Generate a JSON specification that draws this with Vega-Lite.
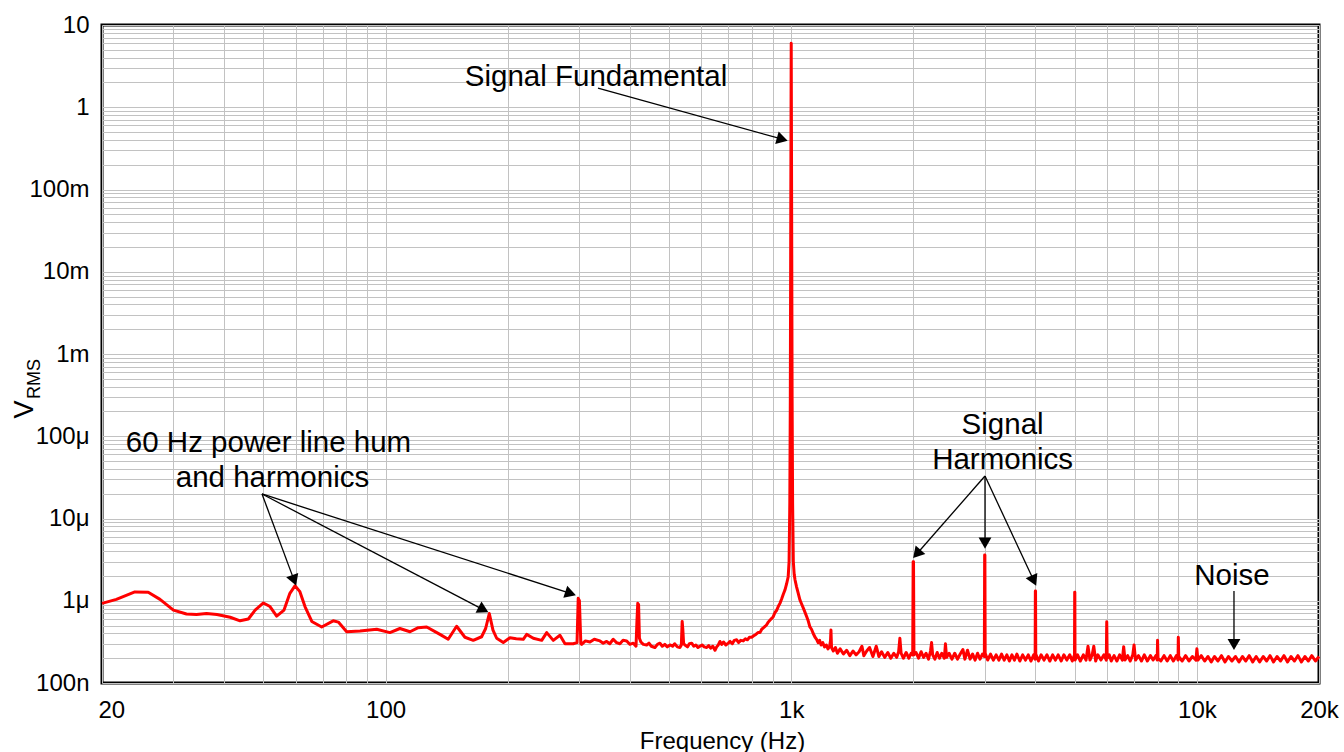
{
  "$schema": "https://vega.github.io/schema/vega-lite/v6.json",
  "width": 1217,
  "height": 658,
  "autosize": {"type": "none"},
  "padding": {"left": 102, "top": 25, "right": 25, "bottom": 69},
  "background": "white",
  "config": {
    "font": "Liberation Sans",
    "view": {"stroke": "#000000", "strokeWidth": 3},
    "axis": {"labelColor": "#000000", "titleColor": "#000000", "titleFontWeight": "normal"}
  },
  "datasets": {
    "spectrum": [
      {"f":20,"v":9.3e-7},{"f":21.7,"v":1.04e-6},{"f":24.1,"v":1.28e-6},{"f":26,"v":1.27e-6},{"f":27.8,"v":1.04e-6},
      {"f":30,"v":7.7e-7},{"f":32.3,"v":6.9e-7},{"f":34.2,"v":6.8e-7},{"f":36.2,"v":7.0e-7},{"f":38.4,"v":6.8e-7},
      {"f":41.4,"v":6.3e-7},{"f":43.8,"v":5.7e-7},{"f":45.9,"v":6.0e-7},{"f":47.7,"v":7.7e-7},{"f":50,"v":9.4e-7},
      {"f":51.9,"v":8.5e-7},{"f":53.9,"v":6.5e-7},{"f":56.2,"v":7.7e-7},{"f":58.1,"v":1.23e-6},{"f":59.8,"v":1.52e-6},
      {"f":61.5,"v":1.29e-6},{"f":63.3,"v":8.5e-7},{"f":65.8,"v":5.6e-7},{"f":69.6,"v":4.8e-7},{"f":74.3,"v":5.7e-7},
      {"f":76.5,"v":5.5e-7},{"f":80.2,"v":4.2e-7},{"f":86.5,"v":4.3e-7},{"f":95.1,"v":4.5e-7},{"f":102.5,"v":4.1e-7},
      {"f":108.5,"v":4.6e-7},{"f":114.9,"v":4.2e-7},{"f":120.4,"v":4.7e-7},{"f":126.3,"v":4.8e-7},{"f":136.2,"v":3.9e-7},
      {"f":142.7,"v":3.4e-7},{"f":149.7,"v":4.9e-7},{"f":156.9,"v":3.6e-7},{"f":164.5,"v":3.3e-7},{"f":172.5,"v":3.65e-7},
      {"f":176.5,"v":4.6e-7},{"f":180.2,"v":7.0e-7},{"f":184,"v":4.4e-7},{"f":187.9,"v":3.5e-7},{"f":195.1,"v":3.1e-7},
      {"f":202.6,"v":3.55e-7},{"f":210,"v":3.45e-7},{"f":218.5,"v":3.4e-7},{"f":222.8,"v":3.9e-7},{"f":231.3,"v":3.5e-7},
      {"f":242.6,"v":3.3e-7},{"f":249.6,"v":4.1e-7},{"f":259.1,"v":3.3e-7},{"f":269.1,"v":3.8e-7},{"f":276.9,"v":3.0e-7},
      {"f":290.2,"v":3.0e-7},{"f":296.5,"v":3.1e-7},{"f":298.5,"v":1.07e-6},{"f":300.5,"v":1.0e-6},{"f":303,"v":3.0e-7},
      {"f":304.4,"v":2.95e-7},{"f":311,"v":3.25e-7},{"f":319.1,"v":3.15e-7},{"f":327,"v":3.4e-7},{"f":337.7,"v":3.25e-7},
      {"f":344,"v":3.05e-7},{"f":350.8,"v":3.2e-7},{"f":357,"v":3.0e-7},{"f":364.1,"v":3.4e-7},{"f":371,"v":3.1e-7},
      {"f":378.2,"v":3.0e-7},{"f":385,"v":3.3e-7},{"f":393,"v":3.25e-7},{"f":400,"v":2.95e-7},{"f":408,"v":3.05e-7},
      {"f":414.4,"v":2.8e-7},{"f":416.5,"v":5.5e-7},{"f":418.5,"v":9.3e-7},{"f":420.5,"v":9.0e-7},{"f":422.5,"v":3.5e-7},
      {"f":426,"v":3.15e-7},{"f":432,"v":2.95e-7},{"f":440.2,"v":2.9e-7},{"f":446,"v":3.05e-7},{"f":452,"v":2.8e-7},
      {"f":461.4,"v":2.7e-7},{"f":468,"v":2.95e-7},{"f":474.6,"v":3.05e-7},{"f":481,"v":2.8e-7},{"f":488,"v":2.95e-7},
      {"f":495,"v":2.75e-7},{"f":502.4,"v":2.9e-7},{"f":510,"v":2.8e-7},{"f":516,"v":3.0e-7},{"f":524,"v":2.75e-7},
      {"f":531.6,"v":2.7e-7},{"f":536,"v":2.9e-7},{"f":538.5,"v":5.6e-7},{"f":540.5,"v":4.5e-7},{"f":543,"v":3.0e-7},
      {"f":547.2,"v":2.9e-7},{"f":555,"v":2.75e-7},{"f":561,"v":3.0e-7},{"f":568.4,"v":3.05e-7},{"f":575,"v":2.8e-7},
      {"f":582,"v":2.9e-7},{"f":589,"v":2.7e-7},{"f":595.8,"v":2.8e-7},{"f":603,"v":2.9e-7},{"f":610,"v":2.75e-7},
      {"f":618.9,"v":2.7e-7},{"f":626,"v":2.85e-7},{"f":633,"v":2.65e-7},{"f":641,"v":2.8e-7},{"f":648.8,"v":2.5e-7},
      {"f":655,"v":2.75e-7},{"f":661,"v":2.9e-7},{"f":667.4,"v":3.2e-7},{"f":674,"v":2.95e-7},{"f":681,"v":3.15e-7},
      {"f":690,"v":2.9e-7},{"f":699.6,"v":3.05e-7},{"f":707,"v":3.2e-7},{"f":716,"v":3.0e-7},{"f":724,"v":3.3e-7},
      {"f":733.8,"v":3.35e-7},{"f":742,"v":3.1e-7},{"f":751,"v":3.3e-7},{"f":761.6,"v":3.25e-7},{"f":771,"v":3.45e-7},
      {"f":780,"v":3.35e-7},{"f":789,"v":3.6e-7},{"f":799,"v":3.6e-7},{"f":808,"v":3.75e-7},{"f":818,"v":3.9e-7},
      {"f":828,"v":4.1e-7},{"f":837.4,"v":4.1e-7},{"f":846,"v":4.5e-7},{"f":855,"v":4.7e-7},{"f":863,"v":4.9e-7},
      {"f":870,"v":5.1e-7},{"f":878,"v":5.5e-7},{"f":886,"v":5.8e-7},{"f":895,"v":6.1e-7},{"f":903,"v":6.4e-7},
      {"f":912,"v":7.2e-7},{"f":920,"v":7.6e-7},{"f":929,"v":8.5e-7},{"f":938,"v":9.3e-7},{"f":947,"v":1.05e-6},
      {"f":956,"v":1.2e-6},{"f":965,"v":1.35e-6},{"f":974,"v":1.6e-6},{"f":983,"v":1.96e-6},{"f":988,"v":3.0e-6},
      {"f":992,"v":1.5e-5},{"f":995,"v":3e-4},{"f":997.5,"v":0.05},{"f":1000,"v":6.0},{"f":1002.5,"v":0.05},
      {"f":1005,"v":3e-4},{"f":1008,"v":1.5e-5},{"f":1012,"v":3.0e-6},{"f":1017,"v":2.1e-6},{"f":1022,"v":1.79e-6},
      {"f":1030,"v":1.5e-6},{"f":1040,"v":1.25e-6},{"f":1051,"v":1.02e-6},{"f":1062,"v":9.0e-7},{"f":1075,"v":7.8e-7},
      {"f":1092,"v":6.4e-7},{"f":1100,"v":5.8e-7},{"f":1112,"v":4.8e-7},{"f":1122,"v":4.5e-7},{"f":1133,"v":4.0e-7},
      {"f":1145,"v":3.6e-7},{"f":1155,"v":3.4e-7},{"f":1165,"v":3.1e-7},{"f":1175,"v":3.3e-7},{"f":1185,"v":2.9e-7},
      {"f":1196,"v":3.1e-7},{"f":1208,"v":2.75e-7},{"f":1220,"v":2.9e-7},{"f":1232,"v":2.6e-7},{"f":1244,"v":2.8e-7},
      {"f":1250,"v":3.3e-7},{"f":1253,"v":4.4e-7},{"f":1257,"v":2.7e-7},{"f":1270,"v":2.45e-7},{"f":1285,"v":2.7e-7},
      {"f":1300,"v":2.3e-7},{"f":1320,"v":2.6e-7},{"f":1345,"v":2.25e-7},{"f":1370,"v":2.5e-7},{"f":1395,"v":2.15e-7},
      {"f":1420,"v":2.45e-7},{"f":1445,"v":2.2e-7},{"f":1470,"v":2.4e-7},{"f":1494,"v":2.8e-7},{"f":1510,"v":2.15e-7},
      {"f":1535,"v":2.45e-7},{"f":1560,"v":2.7e-7},{"f":1590,"v":2.1e-7},{"f":1620,"v":2.8e-7},{"f":1645,"v":2.1e-7},
      {"f":1670,"v":2.4e-7},{"f":1700,"v":2.05e-7},{"f":1730,"v":2.35e-7},{"f":1760,"v":2.0e-7},{"f":1790,"v":2.3e-7},
      {"f":1820,"v":2.05e-7},{"f":1840,"v":2.4e-7},{"f":1853,"v":3.5e-7},{"f":1866,"v":2.3e-7},{"f":1890,"v":2.0e-7},
      {"f":1920,"v":2.35e-7},{"f":1950,"v":2.0e-7},{"f":1975,"v":2.3e-7},{"f":1993,"v":2.2e-7},{"f":1998,"v":2.98e-6},
      {"f":2002,"v":2.98e-6},{"f":2007,"v":2.2e-7},{"f":2030,"v":2.35e-7},{"f":2060,"v":2.0e-7},{"f":2090,"v":2.4e-7},
      {"f":2120,"v":2.05e-7},{"f":2150,"v":2.3e-7},{"f":2180,"v":1.95e-7},{"f":2205,"v":2.45e-7},{"f":2218,"v":3.1e-7},
      {"f":2232,"v":2.2e-7},{"f":2260,"v":1.95e-7},{"f":2290,"v":2.35e-7},{"f":2320,"v":2.0e-7},{"f":2350,"v":2.3e-7},
      {"f":2385,"v":2.0e-7},{"f":2400,"v":3.0e-7},{"f":2415,"v":2.05e-7},{"f":2450,"v":2.3e-7},{"f":2490,"v":1.95e-7},
      {"f":2530,"v":2.3e-7},{"f":2570,"v":1.95e-7},{"f":2610,"v":2.25e-7},{"f":2650,"v":2.55e-7},{"f":2680,"v":1.95e-7},
      {"f":2720,"v":2.5e-7},{"f":2760,"v":1.95e-7},{"f":2800,"v":2.25e-7},{"f":2840,"v":1.9e-7},{"f":2880,"v":2.3e-7},
      {"f":2920,"v":1.95e-7},{"f":2960,"v":2.25e-7},{"f":2993,"v":2.1e-7},{"f":2998,"v":3.6e-6},{"f":3002,"v":3.6e-6},
      {"f":3007,"v":2.3e-7},{"f":3050,"v":1.9e-7},{"f":3100,"v":2.25e-7},{"f":3150,"v":1.9e-7},{"f":3200,"v":2.2e-7},
      {"f":3250,"v":1.9e-7},{"f":3300,"v":2.25e-7},{"f":3350,"v":1.9e-7},{"f":3400,"v":2.2e-7},{"f":3450,"v":1.85e-7},
      {"f":3500,"v":2.2e-7},{"f":3550,"v":1.9e-7},{"f":3600,"v":2.25e-7},{"f":3660,"v":1.85e-7},{"f":3720,"v":2.2e-7},
      {"f":3780,"v":1.9e-7},{"f":3840,"v":2.2e-7},{"f":3900,"v":1.85e-7},{"f":3960,"v":2.2e-7},{"f":3993,"v":1.95e-7},
      {"f":3998,"v":1.31e-6},{"f":4002,"v":1.31e-6},{"f":4007,"v":2.25e-7},{"f":4070,"v":1.85e-7},{"f":4130,"v":2.2e-7},
      {"f":4200,"v":1.9e-7},{"f":4270,"v":2.2e-7},{"f":4340,"v":1.85e-7},{"f":4410,"v":2.2e-7},{"f":4480,"v":1.9e-7},
      {"f":4550,"v":2.2e-7},{"f":4630,"v":1.85e-7},{"f":4700,"v":2.2e-7},{"f":4780,"v":1.9e-7},{"f":4860,"v":2.2e-7},
      {"f":4930,"v":1.85e-7},{"f":4993,"v":2.2e-7},{"f":4998,"v":1.27e-6},{"f":5002,"v":1.27e-6},{"f":5007,"v":1.9e-7},
      {"f":5080,"v":2.2e-7},{"f":5160,"v":1.85e-7},{"f":5250,"v":2.2e-7},{"f":5330,"v":1.9e-7},{"f":5390,"v":2.8e-7},
      {"f":5450,"v":1.9e-7},{"f":5520,"v":2.2e-7},{"f":5570,"v":2.8e-7},{"f":5630,"v":1.85e-7},{"f":5700,"v":2.2e-7},
      {"f":5800,"v":1.9e-7},{"f":5900,"v":2.2e-7},{"f":5980,"v":1.9e-7},{"f":5995,"v":5.56e-7},{"f":6010,"v":2.0e-7},
      {"f":6080,"v":2.2e-7},{"f":6150,"v":1.85e-7},{"f":6250,"v":2.15e-7},{"f":6350,"v":1.85e-7},{"f":6450,"v":2.2e-7},
      {"f":6550,"v":1.9e-7},{"f":6600,"v":2.76e-7},{"f":6650,"v":1.9e-7},{"f":6750,"v":2.15e-7},{"f":6850,"v":1.85e-7},
      {"f":6950,"v":2.2e-7},{"f":7000,"v":2.9e-7},{"f":7060,"v":1.9e-7},{"f":7180,"v":2.15e-7},{"f":7300,"v":1.85e-7},
      {"f":7420,"v":2.2e-7},{"f":7550,"v":1.85e-7},{"f":7680,"v":2.15e-7},{"f":7800,"v":1.9e-7},{"f":7920,"v":2.15e-7},
      {"f":7985,"v":1.9e-7},{"f":8000,"v":3.3e-7},{"f":8020,"v":2.0e-7},{"f":8150,"v":1.85e-7},{"f":8300,"v":2.15e-7},
      {"f":8450,"v":1.85e-7},{"f":8600,"v":2.15e-7},{"f":8750,"v":1.85e-7},{"f":8900,"v":2.15e-7},{"f":8985,"v":1.9e-7},
      {"f":9000,"v":3.6e-7},{"f":9020,"v":2.1e-7},{"f":9200,"v":1.85e-7},{"f":9380,"v":2.15e-7},{"f":9560,"v":1.85e-7},
      {"f":9750,"v":2.1e-7},{"f":9950,"v":1.9e-7},{"f":10000,"v":2.6e-7},{"f":10060,"v":1.9e-7},{"f":10250,"v":2.15e-7},
      {"f":10450,"v":1.85e-7},{"f":10650,"v":2.1e-7},{"f":10850,"v":1.8e-7},{"f":11050,"v":2.1e-7},{"f":11270,"v":1.85e-7},
      {"f":11500,"v":2.15e-7},{"f":11730,"v":1.8e-7},{"f":11960,"v":2.1e-7},{"f":12200,"v":1.85e-7},{"f":12450,"v":2.1e-7},
      {"f":12700,"v":1.8e-7},{"f":12950,"v":2.1e-7},{"f":13200,"v":1.85e-7},{"f":13460,"v":2.15e-7},{"f":13730,"v":1.8e-7},
      {"f":14000,"v":2.1e-7},{"f":14280,"v":1.8e-7},{"f":14570,"v":2.1e-7},{"f":14860,"v":1.85e-7},{"f":15150,"v":2.15e-7},
      {"f":15450,"v":1.8e-7},{"f":15760,"v":2.1e-7},{"f":16080,"v":1.85e-7},{"f":16400,"v":2.15e-7},{"f":16730,"v":1.8e-7},
      {"f":17060,"v":2.1e-7},{"f":17400,"v":1.85e-7},{"f":17750,"v":2.15e-7},{"f":18100,"v":1.8e-7},{"f":18460,"v":2.1e-7},
      {"f":18830,"v":1.85e-7},{"f":19200,"v":2.15e-7},{"f":19600,"v":1.85e-7},{"f":20000,"v":2.1e-7}
    ],
    "arrows": [
      {"f0":334.0,"v0":1.714,"f":941,"v":0.4146},
      {"f0":49.6,"v0":1.986e-5,"f":59.3,"v":1.859e-6},
      {"f0":49.6,"v0":1.986e-5,"f":172.7,"v":7.98e-7},
      {"f0":49.6,"v0":1.986e-5,"f":283.0,"v":1.246e-6},
      {"f0":3004,"v0":3.286e-5,"f":2054,"v":3.86e-6},
      {"f0":3004,"v0":3.286e-5,"f":3004,"v":5.28e-6},
      {"f0":3004,"v0":3.286e-5,"f":3946,"v":1.838e-6},
      {"f0":12344,"v0":1.314e-6,"f":12344,"v":3.10e-7}
    ],
    "notes": [
      {"f":330.2,"v":1.813,"label":"Signal Fundamental"},
      {"f":51.46,"v":6.435e-5,"label":"60 Hz power line hum"},
      {"f":52.64,"v":2.415e-5,"label":"and harmonics"},
      {"f":3320,"v":1.065e-4,"label":"Signal"},
      {"f":3320,"v":3.997e-5,"label":"Harmonics"},
      {"f":12206,"v":1.554e-6,"label":"Noise"}
    ]
  },
  "encoding": {
    "x": {
      "field": "f",
      "type": "quantitative",
      "scale": {"type": "log", "domain": [20, 20000], "nice": false},
      "axis": {
        "values": [20,30,40,50,60,70,80,90,100,200,300,400,500,600,700,800,900,1000,2000,3000,4000,5000,6000,7000,8000,9000,10000,20000],
        "labelExpr": "datum.value == 20 ? '20' : datum.value == 100 ? '100' : datum.value == 1000 ? '1k' : datum.value == 10000 ? '10k' : datum.value == 20000 ? '20k' : ''",
        "labelAlign": {"condition": {"test": "datum.value == 20", "value": "left"}, "value": "center"},
        "labelOffset": {"condition": {"test": "datum.value == 20", "value": -4}, "value": 0},
        "labelOverlap": false,
        "labelBound": false,
        "labelFlush": false,
        "labelFontSize": 24,
        "labelPadding": 15,
        "ticks": false,
        "domain": false,
        "grid": true,
        "gridColor": "#c2c2c2",
        "gridWidth": 1,
        "title": "Frequency (Hz)",
        "titleFontSize": 24,
        "titleX": 620,
        "titleY": 65,
        "titleAlign": "center",
        "titleBaseline": "alphabetic"
      }
    },
    "y": {
      "field": "v",
      "type": "quantitative",
      "scale": {"type": "log", "domain": [1e-7, 10], "nice": false},
      "axis": {
        "values": [1e-7,2e-7,3e-7,4e-7,5e-7,6e-7,7e-7,8e-7,9e-7,1e-6,2e-6,3e-6,4e-6,5e-6,6e-6,7e-6,8e-6,9e-6,1e-5,2e-5,3e-5,4e-5,5e-5,6e-5,7e-5,8e-5,9e-5,1e-4,2e-4,3e-4,4e-4,5e-4,6e-4,7e-4,8e-4,9e-4,1e-3,2e-3,3e-3,4e-3,5e-3,6e-3,7e-3,8e-3,9e-3,1e-2,2e-2,3e-2,4e-2,5e-2,6e-2,7e-2,8e-2,9e-2,0.1,0.2,0.3,0.4,0.5,0.6,0.7,0.8,0.9,1,2,3,4,5,6,7,8,9,10],
        "labelExpr": "datum.value == 1e-7 ? '100n' : datum.value == 1e-6 ? '1μ' : datum.value == 1e-5 ? '10μ' : datum.value == 1e-4 ? '100μ' : datum.value == 1e-3 ? '1m' : datum.value == 1e-2 ? '10m' : datum.value == 0.1 ? '100m' : datum.value == 1 ? '1' : datum.value == 10 ? '10' : ''",
        "labelOverlap": false,
        "labelBound": false,
        "labelFlush": false,
        "labelFontSize": 24,
        "labelPadding": 13,
        "ticks": false,
        "domain": false,
        "grid": true,
        "gridColor": "#c2c2c2",
        "gridWidth": 1,
        "title": "V",
        "titleFontSize": 27,
        "titleAngle": 270,
        "titleX": -70,
        "titleY": 384,
        "titleAlign": "center",
        "titleBaseline": "alphabetic"
      }
    }
  },
  "layer": [
    {
      "data": {"name": "spectrum"},
      "mark": {"type": "line", "color": "#ff0000", "strokeWidth": 3, "strokeJoin": "round"}
    },
    {
      "data": {"name": "arrows"},
      "mark": {"type": "rule", "color": "#000000", "strokeWidth": 1.3},
      "encoding": {
        "x2": {"field": "f0"},
        "y2": {"field": "v0"}
      }
    },
    {
      "data": {"name": "arrows"},
      "transform": [
        {"calculate": "atan2(405.667 * log(datum.f / datum.f0) / LN10, -82.25 * log(datum.v0 / datum.v) / LN10) * 180 / PI", "as": "heading"}
      ],
      "mark": {"type": "point", "shape": "triangle", "filled": true, "color": "#000000", "opacity": 1, "size": 165},
      "encoding": {
        "angle": {"field": "heading", "type": "quantitative", "scale": null}
      }
    },
    {
      "data": {"name": "notes"},
      "mark": {"type": "text", "fontSize": 29.5, "align": "center", "baseline": "alphabetic", "color": "#000000"},
      "encoding": {
        "text": {"field": "label", "type": "nominal"}
      }
    },
    {
      "data": {"values": [{"f": 14.07, "v": 4.966e-4, "label": "RMS"}]},
      "mark": {"type": "text", "fontSize": 18, "angle": 270, "align": "center", "baseline": "alphabetic", "color": "#000000"},
      "encoding": {
        "text": {"field": "label", "type": "nominal"}
      }
    }
  ]
}
